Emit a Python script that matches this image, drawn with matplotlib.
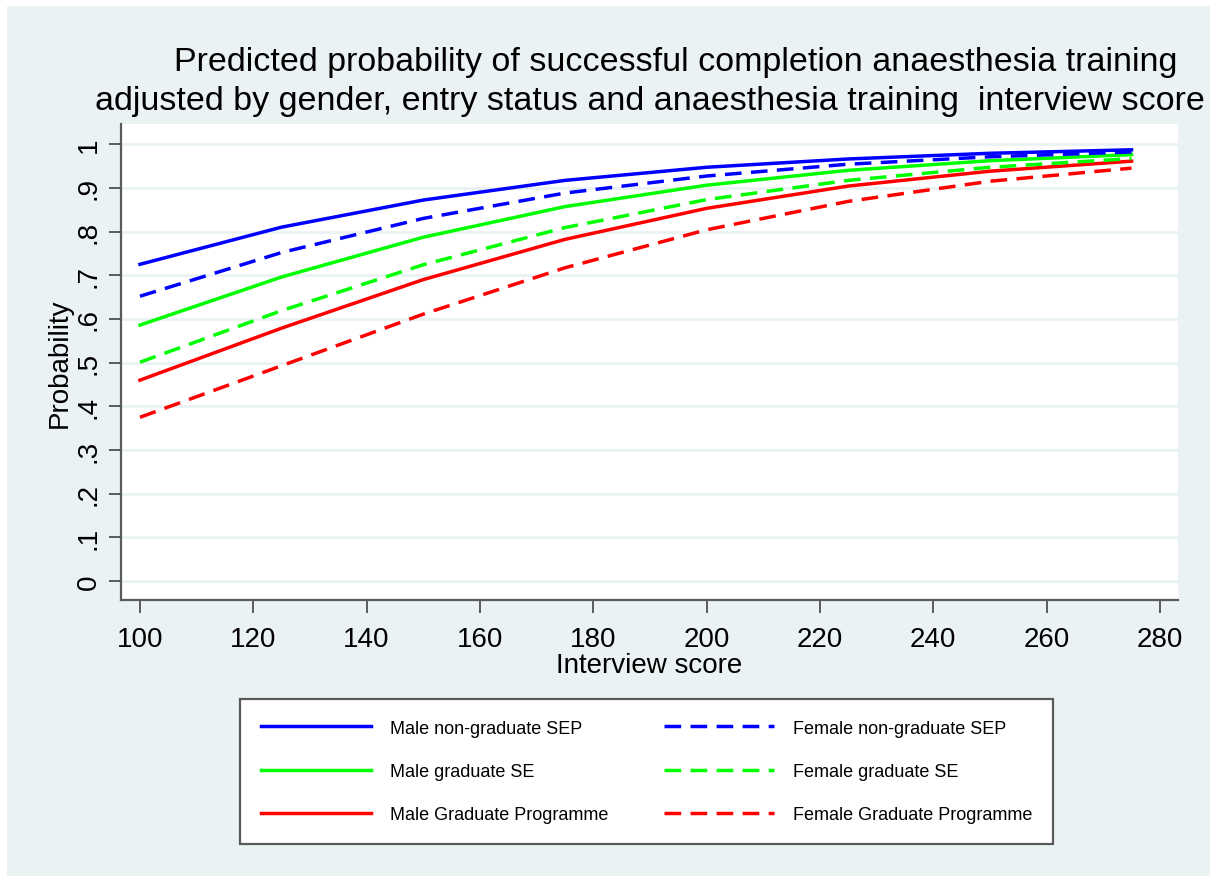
import matplotlib.pyplot as plt
from matplotlib.patches import Rectangle

plt.rcParams['font.family'] = ['Liberation Sans', 'DejaVu Sans']

score = [100, 125, 150, 175, 200, 225, 250, 275]

male_nongrad_sep = [0.725, 0.810, 0.872, 0.917, 0.947, 0.966, 0.979, 0.987]
female_nongrad_sep = [0.652, 0.752, 0.830, 0.888, 0.927, 0.954, 0.971, 0.982]
male_grad_se = [0.586, 0.696, 0.787, 0.857, 0.906, 0.940, 0.962, 0.976]
female_grad_se = [0.501, 0.619, 0.724, 0.809, 0.873, 0.917, 0.947, 0.967]
male_grad_prog = [0.460, 0.579, 0.690, 0.782, 0.853, 0.904, 0.938, 0.961]
female_grad_prog = [0.375, 0.493, 0.611, 0.717, 0.804, 0.869, 0.915, 0.945]

y_ticks = [0, 0.1, 0.2, 0.3, 0.4, 0.5, 0.6, 0.7, 0.8, 0.9, 1.0]
y_tick_labels = ['0', '.1', '.2', '.3', '.4', '.5', '.6', '.7', '.8', '.9', '1']
x_ticks = [100, 120, 140, 160, 180, 200, 220, 240, 260, 280]

bg = '#EAF2F3'
axis_col = '#5a5a5a'
W, H = 1210, 879

fig = plt.figure(figsize=(W / 100, H / 100), dpi=100, facecolor='white')
# light panel behind everything, thin white margin on top/left
fig.patches.append(Rectangle((7 / W, 2 / H), 1 - 7 / W, 1 - 9 / H,
                             transform=fig.transFigure, facecolor=bg,
                             edgecolor='none', zorder=-10))

ax = fig.add_axes([121 / W, 1 - 601 / H, (1178 - 121) / W, (601 - 125) / H])
ax.set_facecolor('white')

dash = (4.8, 2.7)
lw = 2.5
series = [
    (male_nongrad_sep, '#0000FF', '-', 'Male non-graduate SEP'),
    (male_grad_se, '#00FF00', '-', 'Male graduate SE'),
    (male_grad_prog, '#FF0000', '-', 'Male Graduate Programme'),
    (female_nongrad_sep, '#0000FF', '--', 'Female non-graduate SEP'),
    (female_grad_se, '#00FF00', '--', 'Female graduate SE'),
    (female_grad_prog, '#FF0000', '--', 'Female Graduate Programme'),
]
handles = []
for vals, col, ls, lab in series:
    if ls == '--':
        h, = ax.plot(score, vals, color=col, lw=lw, dashes=dash, label=lab, zorder=3)
    else:
        h, = ax.plot(score, vals, color=col, lw=lw, label=lab, zorder=3)
    handles.append(h)

ax.set_xlim(96.65, 283.2)
ax.set_ylim(-0.043, 1.046)
ax.set_xticks(x_ticks)
ax.set_yticks(y_ticks)
ax.set_yticklabels(y_tick_labels, rotation=90, va='center')
ax.grid(axis='y', color=bg, lw=2, zorder=1)
ax.set_axisbelow(True)

for s in ['top', 'right']:
    ax.spines[s].set_visible(False)
for s in ['left', 'bottom']:
    ax.spines[s].set_color(axis_col)
    ax.spines[s].set_linewidth(1.6)
ax.tick_params(axis='both', length=9, width=1.4, color=axis_col, labelsize=20)
ax.tick_params(axis='x', pad=10)
ax.tick_params(axis='y', pad=5)

ax.set_xlabel('Interview score', fontsize=20, labelpad=0)
ax.set_ylabel('Probability', fontsize=20, labelpad=2)

fig.text(676 / W, 1 - 62 / H,
         'Predicted probability of successful completion anaesthesia training',
         ha='center', va='center', fontsize=24.5)
fig.text(650 / W, 1 - 102 / H,
         'adjusted by gender, entry status and anaesthesia training  interview score',
         ha='center', va='center', fontsize=24.5)

leg = fig.legend(handles=handles, ncol=2, loc='upper left',
                 bbox_to_anchor=(240 / W, 1 - 700 / H), fontsize=13,
                 handlelength=6.1, handletextpad=1.05, columnspacing=3.1,
                 labelspacing=1.45, borderpad=1.15, borderaxespad=0,
                 fancybox=False, framealpha=1, edgecolor=axis_col)
leg.get_frame().set_linewidth(1.6)

fig.savefig('out.png', dpi=100, facecolor=fig.get_facecolor())
